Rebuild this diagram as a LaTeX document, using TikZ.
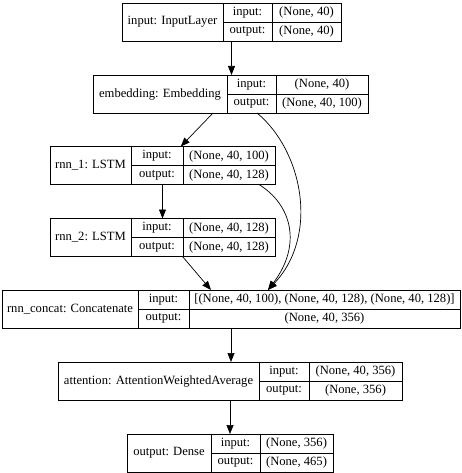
\documentclass[tikz,border=0pt]{standalone}
\usepackage{fontspec}
\setmainfont{Liberation Serif}
\usetikzlibrary{arrows.meta}

\begin{document}
\begin{tikzpicture}[x=1pt,y=-1pt,>={Triangle[length=9pt,width=7pt]},
    line width=0.8pt,font=\fontsize{12.6}{14}\selectfont,
    rec/.style={draw,inner sep=0,outer sep=0,minimum height=38},
    fld/.style={draw,inner sep=0,outer sep=0,minimum height=19,anchor=north west},
    lblbox/.style={fld,minimum height=38},
    arr/.style={->,line width=0.7pt}]
  \useasboundingbox[fill=white](0,0) rectangle (461,473);
  % input
  \node[rec,minimum width=219,anchor=north west](input) at (122,3){};
  \node[lblbox,minimum width=101](input-n) at (input.north west){input: InputLayer};
  \node[fld,minimum width=49](input-i) at (input-n.north east){input:};
  \node[fld,minimum width=49](input-o) at (input-i.south west){output:};
  \node[fld,minimum width=69](input-iv) at (input-i.north east){(None, 40)};
  \node[fld,minimum width=69](input-ov) at (input-o.north east){(None, 40)};
  % embedding
  \node[rec,minimum width=275,anchor=north west](embedding) at (93,75){};
  \node[lblbox,minimum width=134](emb-n) at (embedding.north west){embedding: Embedding};
  \node[fld,minimum width=49](emb-i) at (emb-n.north east){input:};
  \node[fld,minimum width=49](emb-o) at (emb-i.south west){output:};
  \node[fld,minimum width=92](emb-iv) at (emb-i.north east){(None, 40)};
  \node[fld,minimum width=92](emb-ov) at (emb-o.north east){(None, 40, 100)};
  % rnn_1
  \node[rec,minimum width=225,anchor=north west](rnn1) at (50,146.5){};
  \node[lblbox,minimum width=81](rnn1-n) at (rnn1.north west){rnn\_1: LSTM};
  \node[fld,minimum width=52](rnn1-i) at (rnn1-n.north east){input:};
  \node[fld,minimum width=52](rnn1-o) at (rnn1-i.south west){output:};
  \node[fld,minimum width=92](rnn1-iv) at (rnn1-i.north east){(None, 40, 100)};
  \node[fld,minimum width=92](rnn1-ov) at (rnn1-o.north east){(None, 40, 128)};
  % rnn_2
  \node[rec,minimum width=225,anchor=north west](rnn2) at (50,218.5){};
  \node[lblbox,minimum width=81](rnn2-n) at (rnn2.north west){rnn\_2: LSTM};
  \node[fld,minimum width=52](rnn2-i) at (rnn2-n.north east){input:};
  \node[fld,minimum width=52](rnn2-o) at (rnn2-i.south west){output:};
  \node[fld,minimum width=92](rnn2-iv) at (rnn2-i.north east){(None, 40, 128)};
  \node[fld,minimum width=92](rnn2-ov) at (rnn2-o.north east){(None, 40, 128)};
  % rnn_concat
  \node[rec,minimum width=458,anchor=north west](concat) at (2,290){};
  \node[lblbox,minimum width=136](concat-n) at (concat.north west){rnn\_concat: Concatenate};
  \node[fld,minimum width=51](concat-i) at (concat-n.north east){input:};
  \node[fld,minimum width=51](concat-o) at (concat-i.south west){output:};
  \node[fld,minimum width=271](concat-iv) at (concat-i.north east){[(None, 40, 100), (None, 40, 128), (None, 40, 128)]};
  \node[fld,minimum width=271](concat-ov) at (concat-o.north east){(None, 40, 356)};
  % attention
  \node[rec,minimum width=344,anchor=north west](attention) at (58,362){};
  \node[lblbox,minimum width=201](att-n) at (attention.north west){attention: AttentionWeightedAverage};
  \node[fld,minimum width=50](att-i) at (att-n.north east){input:};
  \node[fld,minimum width=50](att-o) at (att-i.south west){output:};
  \node[fld,minimum width=93](att-iv) at (att-i.north east){(None, 40, 356)};
  \node[fld,minimum width=93](att-ov) at (att-o.north east){(None, 356)};
  % output
  \node[rec,minimum width=206,anchor=north west](output) at (127,434){};
  \node[lblbox,minimum width=84](out-n) at (output.north west){output: Dense};
  \node[fld,minimum width=49](out-i) at (out-n.north east){input:};
  \node[fld,minimum width=49](out-o) at (out-i.south west){output:};
  \node[fld,minimum width=73](out-iv) at (out-i.north east){(None, 356)};
  \node[fld,minimum width=73](out-ov) at (out-o.north east){(None, 465)};
  % edges
  \draw[arr](input.south)--(input.south|-embedding.north);
  \draw[arr]([xshift=-17.5pt]embedding.south)--(rnn1);
  \draw[arr]([xshift=26.5pt]embedding.south)
    .. controls (302,150) and (320,235) .. ([xshift=37pt]concat.north);
  \draw[arr](rnn1.south)--(rnn2.north);
  \draw[arr]([xshift=96.5pt]rnn1.south)
    .. controls (292,205) and (302,245) .. ([xshift=37pt]concat.north);
  \draw[arr]([xshift=20pt]rnn2.south)--([xshift=-20pt]concat.north);
  \draw[arr](concat.south)--(concat.south|-attention.north);
  \draw[arr](attention.south)--(attention.south|-output.north);
\end{tikzpicture}
\end{document}
